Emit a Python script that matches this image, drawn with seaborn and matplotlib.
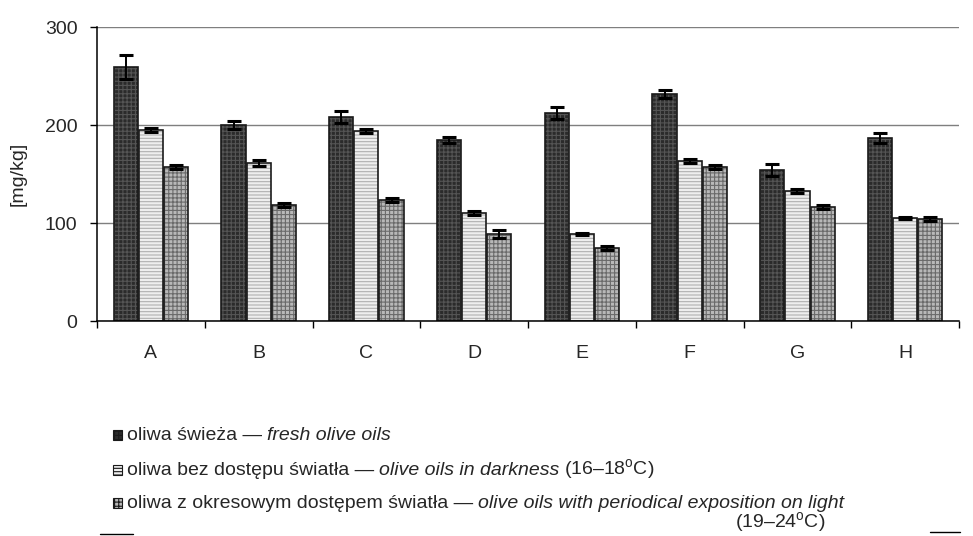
import pandas as pd
import numpy as np
import matplotlib
matplotlib.use("Agg")
import matplotlib.pyplot as plt
import seaborn as sns
from matplotlib.patches import Rectangle
from matplotlib.lines import Line2D

categories = ["A", "B", "C", "D", "E", "F", "G", "H"]
fresh = [259, 200, 208, 185, 212, 232, 154, 187]
fresh_err = [12, 4, 6, 3, 6, 4, 6, 5]
dark = [195, 161, 194, 110, 89, 163, 133, 105]
dark_err = [2, 3, 2, 2, 1, 2, 2, 1]
light = [157, 118, 124, 89, 75, 157, 116, 104]
light_err = [2, 2, 2, 4, 2, 2, 2, 2]

series = ["fresh", "dark", "light"]
# legend rows: (regular part, italic part, regular tail)
legend_rows = [
    ("oliwa świeża — ", "fresh olive oils", ""),
    ("oliwa bez dostępu światła — ", "olive oils in darkness", "(16–18$^{\\mathregular{o}}$C)"),
    ("oliwa z okresowym dostępem światła — ", "olive oils with periodical exposition on light", ""),
]
extra_line = "(19–24$^{\\mathregular{o}}$C)"

# bar styles: face, hatch, hatch colour
styles = {
    "fresh": ("#2b2b2b", "++++", "#555555"),
    "dark": ("#eeeeee", "-----", "#b0b0b0"),
    "light": ("#b8b8b8", "++++", "#6a6a6a"),
}

df = pd.DataFrame({
    "cat": categories * 3,
    "series": ["fresh"] * 8 + ["dark"] * 8 + ["light"] * 8,
    "value": fresh + dark + light,
    "err": fresh_err + dark_err + light_err,
})

sns.set_style("white")
plt.rcParams["font.family"] = ["Liberation Sans", "DejaVu Sans"]
plt.rcParams["mathtext.fontset"] = "custom"
plt.rcParams["mathtext.rm"] = "Liberation Sans"
plt.rcParams["mathtext.it"] = "Liberation Sans:italic"
plt.rcParams["hatch.linewidth"] = 0.8
fs = 14

fig = plt.figure(figsize=(9.73, 5.36), dpi=100)
ax = fig.add_axes([0.0997, 0.401, 0.886, 0.5485])

sns.barplot(data=df, x="cat", y="value", hue="series", order=categories,
            hue_order=series, palette=["#888888"] * 3, errorbar=None,
            width=0.7, gap=0.04, legend=False, ax=ax)

for cont, s in zip(ax.containers, series):
    face, hatch, hcol = styles[s]
    errs = df[df.series == s]["err"].values
    xs, hs = [], []
    for bar in cont:
        bar.set_facecolor(face)
        bar.set_edgecolor(hcol)
        bar.set_hatch(hatch)
        bar.set_linewidth(0)
        bb = bar.get_bbox()
        ax.add_patch(Rectangle((bb.x0, bb.y0), bb.width, bb.height, fill=False,
                               edgecolor="#1a1a1a", lw=1.2, zorder=bar.get_zorder() + 0.1))
        xs.append(bar.get_x() + bar.get_width() / 2)
        hs.append(bar.get_height())
    ax.errorbar(xs, hs, yerr=errs, fmt="none", ecolor="black", elinewidth=1.4,
                capsize=5, capthick=2.2, zorder=5)

ax.set_ylim(0, 300)
ax.set_xlim(-0.5, 7.5)
ax.set_yticks([0, 100, 200, 300])
ax.yaxis.grid(True, color="#7f7f7f", lw=1)
ax.set_axisbelow(True)
for side in ["top", "right"]:
    ax.spines[side].set_visible(False)
ax.spines["left"].set_color("black")
ax.spines["bottom"].set_color("black")
ax.spines["left"].set_linewidth(1.1)
ax.spines["bottom"].set_linewidth(1.1)

ax.set_xticks(np.arange(-0.5, 8, 1), minor=True)
ax.tick_params(axis="x", which="major", length=0, pad=17, labelsize=fs)
ax.tick_params(axis="x", which="minor", length=5, width=1, color="black", direction="out", bottom=True)
ax.tick_params(axis="y", length=5, width=1, color="black", direction="out", left=True, pad=9, labelsize=fs)
ax.set_xlabel("")
ax.set_ylabel("[mg/kg]", fontsize=fs, labelpad=13)

# legend drawn by hand: square marker + regular / italic text chained together
row_y = [0.188, 0.123, 0.061]
for (reg, ital, tail), s, y in zip(legend_rows, series, row_y):
    face, hatch, hcol = styles[s]
    sq = Rectangle((0.116, y - 0.009), 0.0095, 0.018, transform=fig.transFigure,
                   facecolor=face, edgecolor="#1a1a1a", hatch=hatch, lw=0.8)
    fig.add_artist(sq)
    t = fig.text(0.1305, y, reg, ha="left", va="center", fontsize=fs)
    t = ax.annotate(ital, xy=(1, 0), xycoords=t, ha="left", va="bottom",
                    fontsize=fs, style="italic")
    if tail:
        ax.annotate(tail, xy=(1, 0), xycoords=t, xytext=(2.8, -1.5),
                    textcoords="offset points", ha="left", va="bottom", fontsize=fs)
fig.text(0.848, 0.026, extra_line, ha="right", va="center", fontsize=fs)

fig.add_artist(Line2D([0.103, 0.137], [0.003, 0.003], color="black", lw=1))
fig.add_artist(Line2D([0.956, 0.987], [0.008, 0.008], color="black", lw=1))

fig.savefig("out.png", dpi=100)
